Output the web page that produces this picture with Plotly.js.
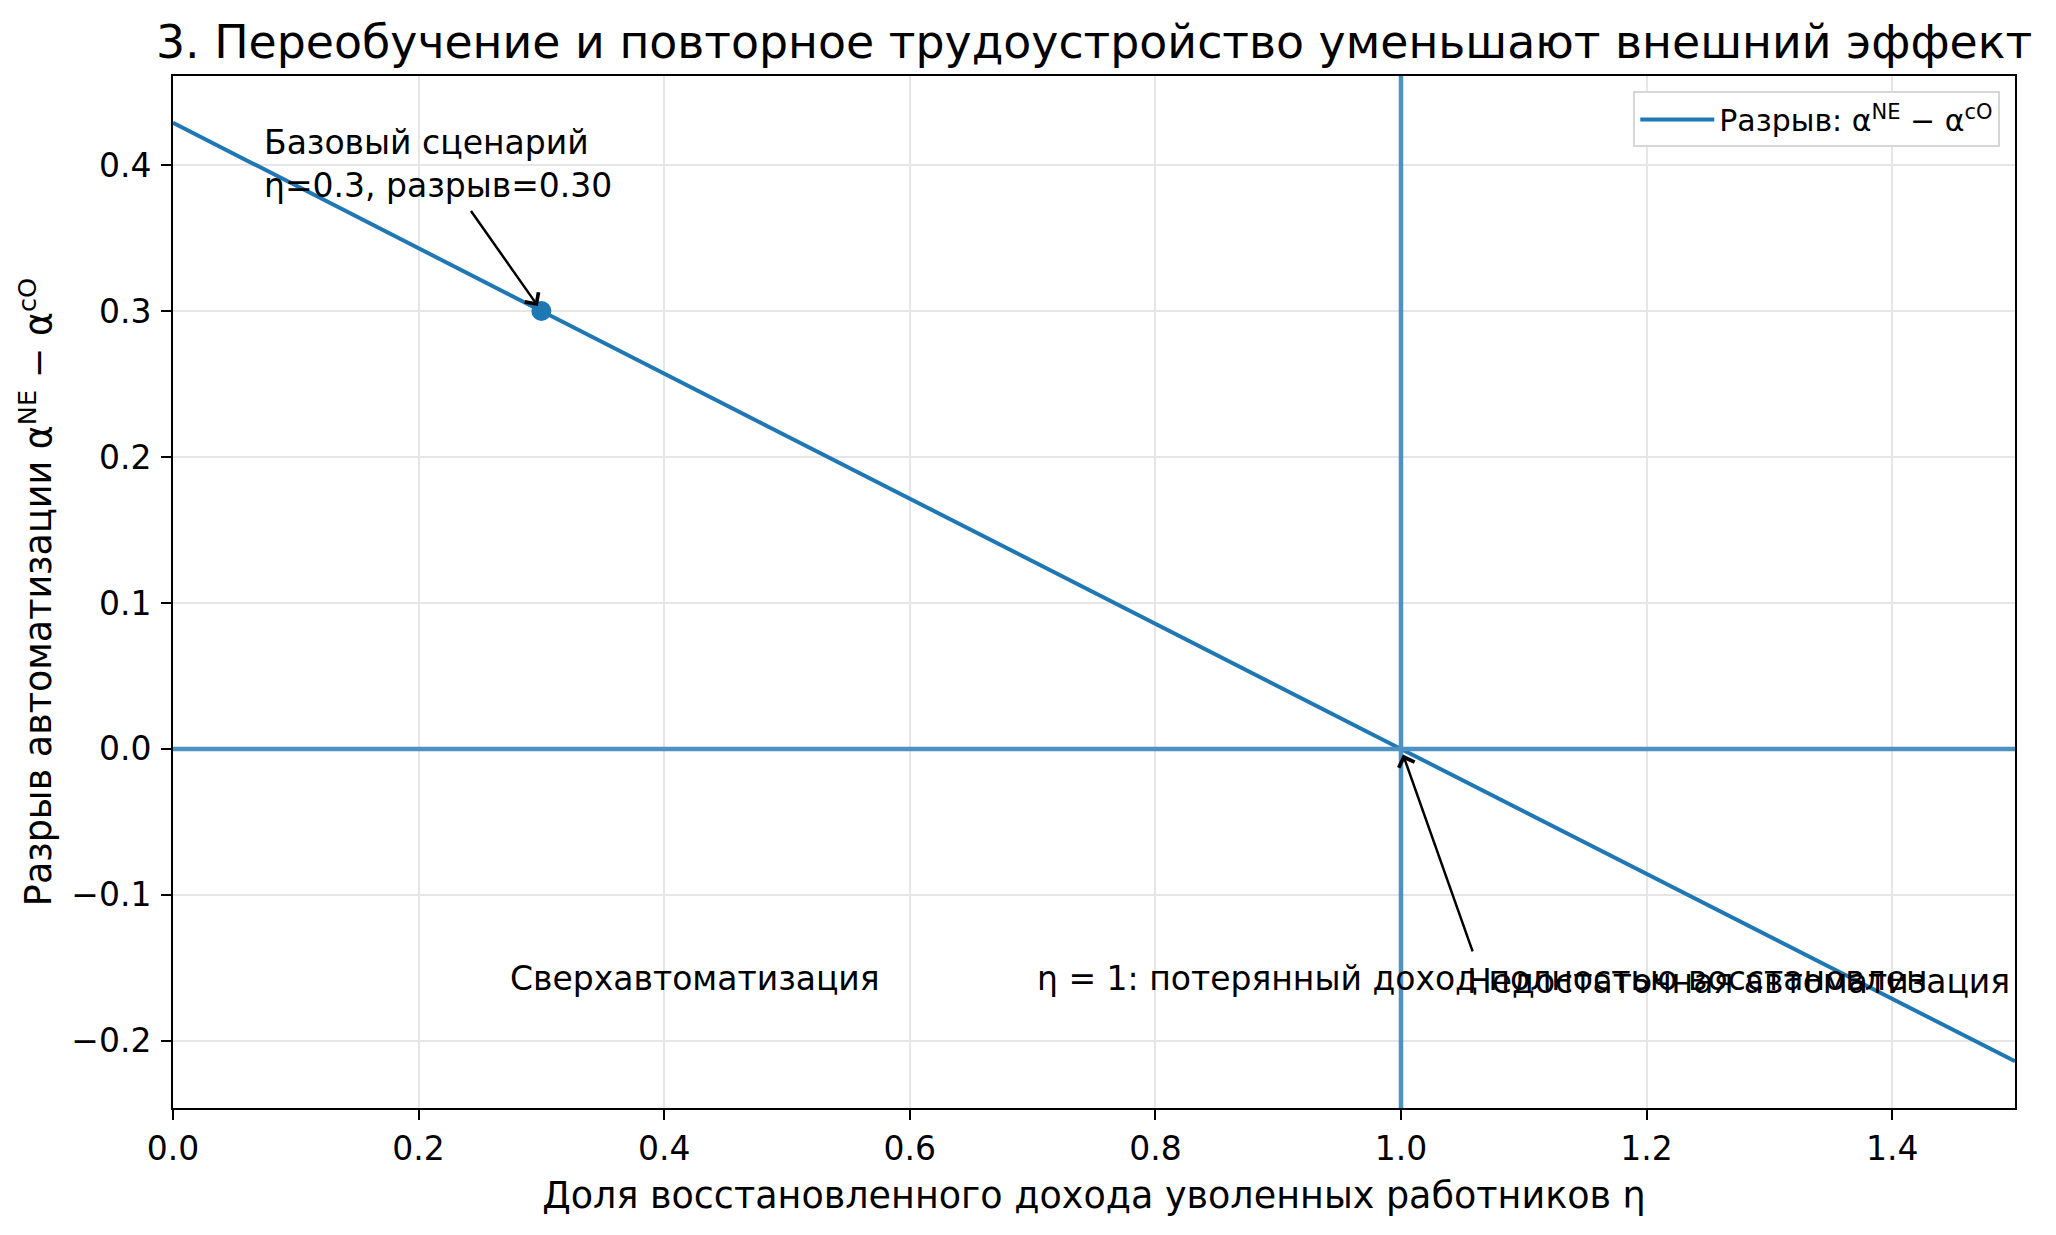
<!DOCTYPE html>
<html>
<head>
<meta charset="utf-8">
<script src="https://cdn.plot.ly/plotly-3.0.1.min.js"></script>
<style>
  html, body { margin: 0; padding: 0; background: #fff; }
  #chart { width: 2056px; height: 1235px; }
</style>
</head>
<body>
<div id="chart"></div>
<script>
// Automation gap vs. share of recovered income
const eta = [0.0, 0.3, 1.0, 1.5];
const gap = [0.429, 0.300, 0.000, -0.214];

// Baseline scenario point
const baseEta = [0.3];
const baseGap = [0.30];

// Reference lines: zero gap and full recovery
const zeroGap = [0.0];
const fullEta = [1.0];

const xTicks = [0.0, 0.2, 0.4, 0.6, 0.8, 1.0, 1.2, 1.4];
const yTicks = [-0.2, -0.1, 0.0, 0.1, 0.2, 0.3, 0.4];

const blue = "#1f77b4";
const refBlue = "#4c92c3";
const font = "DejaVu Sans";

const traces = [{
    type: "scatter",
    mode: "lines",
    name: "Разрыв: α<sup>NE</sup> − α<sup>cO</sup>",
    x: eta, y: gap,
    line: { color: blue, width: 4 },
}, {
    type: "scatter",
    mode: "markers",
    showlegend: false,
    x: baseEta, y: baseGap,
    marker: { color: blue, size: 20 },
}];

// Reference lines through the library's own axes
const shapes = [{
    type: "line", layer: "above",
    xref: "paper", x0: 0, x1: 1,
    yref: "y", y0: zeroGap[0], y1: zeroGap[0],
    line: { color: refBlue, width: 4.5 },
}, {
    type: "line", layer: "above",
    xref: "x", x0: fullEta[0], x1: fullEta[0],
    yref: "paper", y0: 0, y1: 1,
    line: { color: refBlue, width: 4.5 },
}];

const annFont = { family: font, size: 33, color: "#000" };
const annotations = [{
    x: baseEta[0], y: baseGap[0], xref: "x", yref: "y",
    ax: 0.2155, ay: 0.401, axref: "x", ayref: "y",
    text: `Базовый сценарий<br>η=${baseEta[0]}, разрыв=${baseGap[0].toFixed(2)}`,
    align: "left", font: annFont,
    showarrow: true, arrowhead: 4, arrowsize: 1.3, arrowwidth: 2.5,
    arrowcolor: "#000", standoff: 6, startstandoff: 6,
}, {
    x: fullEta[0], y: zeroGap[0], xref: "x", yref: "y",
    ax: 1.066, ay: -0.157, axref: "x", ayref: "y",
    text: "η = 1: потерянный доход полностью восстановлен",
    font: annFont,
    showarrow: true, arrowhead: 4, arrowsize: 1.3, arrowwidth: 2.5,
    arrowcolor: "#000", standoff: 6, startstandoff: 6,
}, {
    x: 0.425, y: -0.157, xref: "x", yref: "y",
    xanchor: "center", yanchor: "middle",
    text: "Сверхавтоматизация", font: annFont, showarrow: false,
}, {
    x: 1.275, y: -0.159, xref: "x", yref: "y",
    xanchor: "center", yanchor: "middle",
    text: "Недостаточная автоматизация", font: annFont, showarrow: false,
}];

const axisCommon = {
    showline: true, mirror: true, linecolor: "#000", linewidth: 2,
    ticks: "outside", ticklen: 10, tickwidth: 2, tickcolor: "#000",
    showgrid: true, gridcolor: "#e6e6e6", gridwidth: 2,
    zeroline: false,
    tickfont: { family: font, size: 33, color: "#000" },
};

const layout = {
    width: 2056, height: 1235,
    margin: { l: 173, r: 41, t: 76, b: 127 },
    paper_bgcolor: "#fff", plot_bgcolor: "#fff",
    font: { family: font, color: "#000" },
    title: {
        text: "3. Переобучение и повторное трудоустройство уменьшают внешний эффект",
        font: { family: font, size: 45.8, color: "#000" },
        x: 0.5, xref: "paper", xanchor: "center",
        y: 0.966, yref: "container", yanchor: "middle",
    },
    xaxis: {
        ...axisCommon,
        range: [0, 1.5],
        tickvals: xTicks, tickformat: ".1f",
        ticklabelstandoff: 0,
        title: {
            text: "Доля восстановленного дохода уволенных работников η",
            font: { family: font, size: 36.5, color: "#000" },
            standoff: 16,
        },
    },
    yaxis: {
        ...axisCommon,
        range: [-0.246, 0.461],
        tickvals: yTicks, tickformat: ".1f",
        ticklabelstandoff: 3,
        title: {
            text: "Разрыв автоматизации α<sup>NE</sup> − α<sup>cO</sup>",
            font: { family: font, size: 36.5, color: "#000" },
            standoff: 8,
        },
    },
    showlegend: true,
    legend: {
        x: 0.992, xanchor: "right", y: 0.985, yanchor: "top",
        bgcolor: "#fff", bordercolor: "#d6d6d6", borderwidth: 2,
        itemwidth: 74,
        font: { family: font, size: 30, color: "#000" },
    },
    shapes: shapes,
    annotations: annotations,
    hovermode: false,
};

Plotly.newPlot("chart", traces, layout, { displayModeBar: false, staticPlot: true });
</script>
</body>
</html>
